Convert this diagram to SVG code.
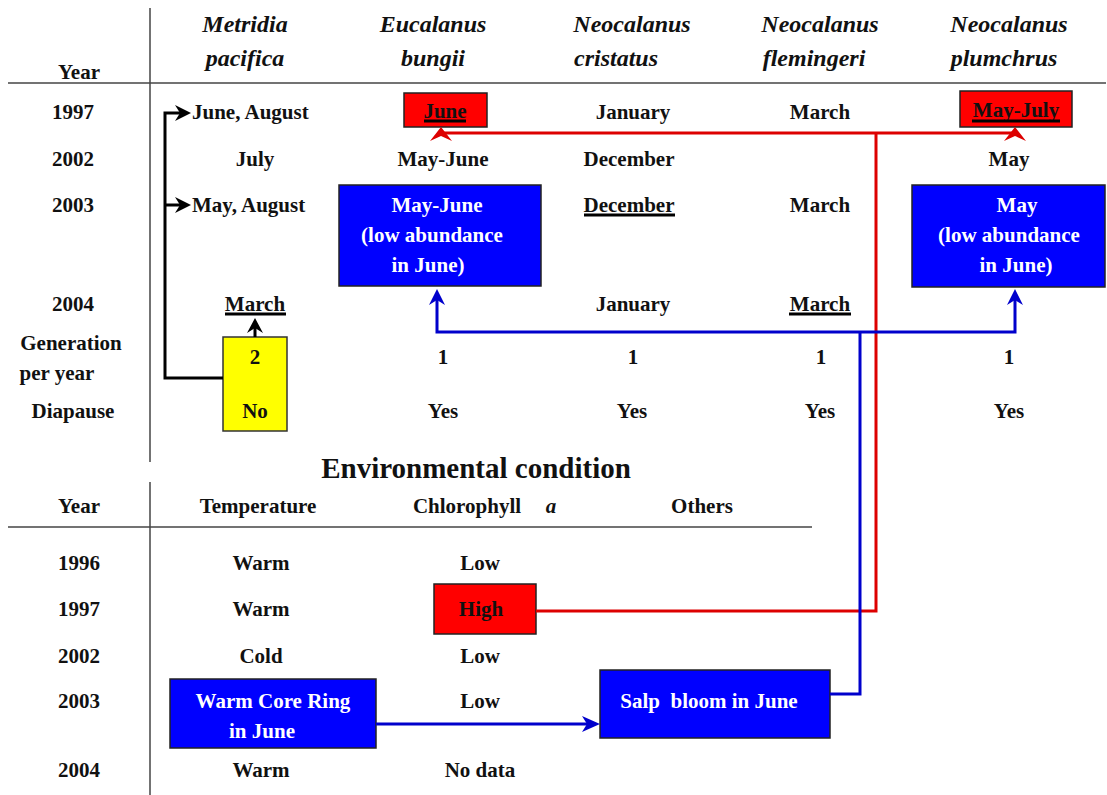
<svg xmlns="http://www.w3.org/2000/svg" width="1107" height="795" viewBox="0 0 1107 795">
<style>
text{font-family:"Liberation Serif","Times New Roman",serif;font-weight:bold;font-size:21px;fill:#111;text-anchor:middle}
.sp{font-style:italic;font-size:24px}
.w{fill:#fff}
.title{font-size:29px}
.rule{stroke:#444;stroke-width:1.5;fill:none}
.ul{stroke:#000;stroke-width:3}
.blue{fill:#0000ff;stroke:#222;stroke-width:1.5}
.red{fill:#ff0000;stroke:#222;stroke-width:1.5}
.yel{fill:#ffff00;stroke:#333;stroke-width:1.5}
.cb{stroke:#000;stroke-width:3;fill:none}
.cr{stroke:#dd0000;stroke-width:3;fill:none}
.cbl{stroke:#0000cc;stroke-width:3;fill:none}
</style>
<rect width="1107" height="795" fill="#fff"/>
<g id="table-lines">
<line class="rule" x1="150" y1="8" x2="150" y2="462"/>
<line class="rule" x1="8" y1="83" x2="1106" y2="83"/>
<line class="rule" x1="150" y1="482" x2="150" y2="795"/>
<line class="rule" x1="8" y1="527" x2="812" y2="527"/>
</g>
<g id="headers">
<text x="79" y="79">Year</text>
<text class="sp" x="245" y="32">Metridia</text>
<text class="sp" x="245" y="66">pacifica</text>
<text class="sp" x="433" y="32">Eucalanus</text>
<text class="sp" x="433" y="66">bungii</text>
<text class="sp" x="632" y="32">Neocalanus</text>
<text class="sp" x="616" y="66">cristatus</text>
<text class="sp" x="820" y="32">Neocalanus</text>
<text class="sp" x="814" y="66">flemingeri</text>
<text class="sp" x="1009" y="32">Neocalanus</text>
<text class="sp" x="1004" y="66">plumchrus</text>
</g>
<g id="row-labels">
<text x="73" y="119">1997</text>
<text x="73" y="166">2002</text>
<text x="73" y="212">2003</text>
<text x="73" y="311">2004</text>
<text x="71" y="350">Generation</text>
<text x="57" y="380">per year</text>
<text x="73" y="418">Diapause</text>
</g>
<g id="node-june-box">
<rect class="red" x="404" y="93" width="83" height="34"/>
<text x="445" y="118">June</text>
<line class="ul" x1="424" y1="121" x2="466" y2="121"/>
</g>
<g id="node-mayjuly-box">
<rect class="red" x="960" y="91" width="112" height="36"/>
<text x="1016" y="117">May-July</text>
<line class="ul" x1="972" y1="121" x2="1060" y2="121"/>
</g>
<g id="node-mayjune-box">
<rect class="blue" x="339" y="185" width="202" height="101"/>
<text class="w" x="437" y="212">May-June</text>
<text class="w" x="432" y="242">(low abundance</text>
<text class="w" x="428" y="272">in June)</text>
</g>
<g id="node-may-box">
<rect class="blue" x="912" y="185" width="193" height="102"/>
<text class="w" x="1017" y="212">May</text>
<text class="w" x="1009" y="242">(low abundance</text>
<text class="w" x="1016" y="272">in June)</text>
</g>
<g id="node-yellow-box">
<rect class="yel" x="223" y="337" width="64" height="94"/>
<text x="255" y="364">2</text>
<text x="255" y="418">No</text>
</g>
<g id="cells">
<text x="192" y="119" style="text-anchor:start">June, August</text>
<text x="633" y="119">January</text>
<text x="820" y="119">March</text>
<text x="255" y="166">July</text>
<text x="443" y="166">May-June</text>
<text x="629" y="166">December</text>
<text x="1009" y="166">May</text>
<text x="192" y="212" style="text-anchor:start">May, August</text>
<text x="629" y="212">December</text>
<line class="ul" x1="584" y1="215" x2="675" y2="215"/>
<text x="820" y="212">March</text>
<text x="255" y="311">March</text>
<line class="ul" x1="225" y1="314" x2="286" y2="314"/>
<text x="633" y="311">January</text>
<text x="820" y="311">March</text>
<line class="ul" x1="789" y1="314" x2="851" y2="314"/>
<text x="443" y="364">1</text>
<text x="633" y="364">1</text>
<text x="821" y="364">1</text>
<text x="1009" y="364">1</text>
<text x="443" y="418">Yes</text>
<text x="632" y="418">Yes</text>
<text x="820" y="418">Yes</text>
<text x="1009" y="418">Yes</text>
</g>
<g id="env-headers">
<text class="title" x="476" y="478">Environmental condition</text>
<text x="79" y="513">Year</text>
<text x="258" y="513">Temperature</text>
<text x="467" y="513">Chlorophyll</text>
<text class="sp" x="551" y="513" style="font-size:21px">a</text>
<text x="702" y="513">Others</text>
</g>
<g id="env-cells">
<text x="79" y="570">1996</text>
<text x="261" y="570">Warm</text>
<text x="480" y="570">Low</text>
<text x="79" y="616">1997</text>
<text x="261" y="616">Warm</text>
<text x="79" y="663">2002</text>
<text x="261" y="663">Cold</text>
<text x="480" y="663">Low</text>
<text x="79" y="708">2003</text>
<text x="480" y="708">Low</text>
<text x="79" y="777">2004</text>
<text x="261" y="777">Warm</text>
<text x="480" y="777">No data</text>
</g>
<g id="node-high-box">
<rect class="red" x="434" y="584" width="102" height="50"/>
<text x="481" y="616">High</text>
</g>
<g id="node-warm-core-ring">
<rect class="blue" x="170" y="679" width="206" height="69"/>
<text class="w" x="273" y="708">Warm Core Ring</text>
<text class="w" x="262" y="738">in June</text>
</g>
<g id="node-salp">
<rect class="blue" x="600" y="670" width="230" height="68"/>
<text class="w" x="709" y="708" xml:space="preserve">Salp  bloom in June</text>
</g>
<g id="connectors">
<path class="cb" d="M223,378 H165 V113 H182"/>
<path class="cb" d="M165,205 H182"/>
<polygon points="191,113 175,105 180,113 175,121" fill="#000"/>
<polygon points="191,205 175,197 180,205 175,213" fill="#000"/>
<path class="cb" d="M255,337 V326"/>
<polygon points="255,318 247,333 255,328 263,333" fill="#000"/>
<path class="cr" d="M536,611 H876 V133"/>
<path class="cr" d="M441,133 H1015"/>
<polygon points="441,127 452,141 441,136 430,141" fill="#dd0000"/>
<polygon points="1015,127 1026,141 1015,136 1004,141" fill="#dd0000"/>
<path class="cbl" d="M830,694 H860 V332"/>
<path class="cbl" d="M437,296 V332 H1015 V296"/>
<polygon points="437,289 445,305 437,300 429,305" fill="#0000cc"/>
<polygon points="1015,289 1023,305 1015,300 1007,305" fill="#0000cc"/>
<path class="cbl" d="M376,724 H590"/>
<polygon points="600,724 582,716 587,724 582,732" fill="#0000cc"/>
</g>
</svg>
